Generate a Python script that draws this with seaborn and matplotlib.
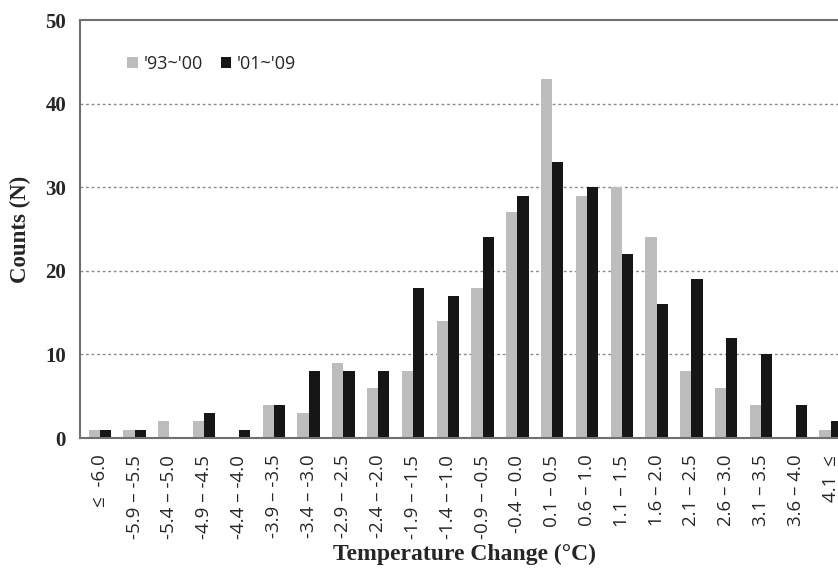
import matplotlib
matplotlib.use("Agg")
import matplotlib.pyplot as plt
import pandas as pd
import seaborn as sns

categories = [
    "≤  -6.0", "-5.9 – -5.5", "-5.4 – -5.0", "-4.9 – -4.5", "-4.4 – -4.0",
    "-3.9 – -3.5", "-3.4 – -3.0", "-2.9 – -2.5", "-2.4 – -2.0", "-1.9 – -1.5",
    "-1.4 – -1.0", "-0.9 – -0.5", "-0.4 – 0.0", "0.1 – 0.5", "0.6 – 1.0",
    "1.1 – 1.5", "1.6 – 2.0", "2.1 – 2.5", "2.6 – 3.0", "3.1 – 3.5",
    "3.6 – 4.0", "4.1  ≤",
]
series_names = ["'93~'00", "'01~'09"]
counts_93_00 = [1, 1, 2, 2, 0, 4, 3, 9, 6, 8, 14, 18, 27, 43, 29, 30, 24, 8, 6, 4, 0, 1]
counts_01_09 = [1, 1, 0, 3, 1, 4, 8, 8, 8, 18, 17, 24, 29, 33, 30, 22, 16, 19, 12, 10, 4, 2]
y_ticks = [0, 10, 20, 30, 40, 50]

df = pd.DataFrame({
    "range": categories * 2,
    "period": [series_names[0]] * len(categories) + [series_names[1]] * len(categories),
    "count": counts_93_00 + counts_01_09,
})

sns.set_theme(style="white")
serif = ["Liberation Serif", "DejaVu Serif"]
sans = ["Open Sans", "DejaVu Sans"]

fig = plt.figure(figsize=(8.38, 5.72), dpi=100)
# axes run slightly past the right edge, like the cropped original
ax = fig.add_axes([80 / 838, 1 - 438 / 572, 768 / 838, 418 / 572])

sns.barplot(
    data=df, x="range", y="count", hue="period",
    order=categories, hue_order=series_names,
    palette=["#bdbdbd", "#161616"], saturation=1,
    width=0.64, edgecolor="none", ax=ax,
)

ax.set_xlim(-0.57, len(categories) - 0.5)
ax.set_ylim(0, 50)
ax.set_yticks(y_ticks)
ax.set_yticklabels([str(t) for t in y_ticks], family=serif, fontweight="bold", fontsize=15)
ax.set_xticks(range(len(categories)))
ax.set_xticklabels(categories, rotation=90, family=sans, fontsize=13.5)
ax.tick_params(axis="both", length=0)
ax.tick_params(axis="x", pad=12)
ax.tick_params(axis="y", pad=10)

for y in y_ticks[1:-1]:
    ax.axhline(y, color="#8a8a8a", linestyle=(0, (2, 2)), linewidth=1.0, zorder=0)
ax.set_axisbelow(True)

for side in ["left", "bottom", "top"]:
    ax.spines[side].set_color("#707070")
    ax.spines[side].set_linewidth(1.5)
ax.spines["right"].set_visible(False)

ax.set_xlabel("Temperature Change (°C)", family=serif, fontweight="bold", fontsize=17, labelpad=4)
ax.set_ylabel("Counts (N)", family=serif, fontweight="bold", fontsize=16.5, labelpad=10)

handles, labels = ax.get_legend_handles_labels()
ax.legend(
    handles, labels, loc="upper left", bbox_to_anchor=(0.04, 0.955), ncol=2,
    frameon=False, handlelength=0.6, handleheight=0.6, handletextpad=0.3,
    columnspacing=1.0, prop={"family": sans, "size": 13},
)

fig.savefig("out.png", dpi=100)
plt.close(fig)
